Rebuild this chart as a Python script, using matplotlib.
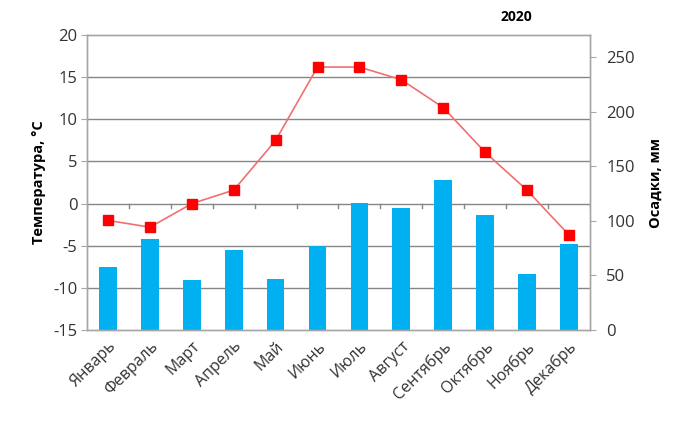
import numpy as np
import matplotlib
matplotlib.use("Agg")
import matplotlib.pyplot as plt

months = ["Январь", "Февраль", "Март", "Апрель", "Май", "Июнь",
          "Июль", "Август", "Сентябрь", "Октябрь", "Ноябрь", "Декабрь"]
temperature = [-2.0, -2.8, 0.0, 1.6, 7.5, 16.2, 16.2, 14.7, 11.4, 6.1, 1.6, -3.7]
precipitation = [58, 83, 46, 73, 47, 77, 116, 112, 137, 105, 51, 79]
temp_ticks = [-15, -10, -5, 0, 5, 10, 15, 20]
prec_ticks = [0, 50, 100, 150, 200, 250]

plt.rcParams['font.family'] = ['Open Sans', 'DejaVu Sans']
plt.rcParams['axes.unicode_minus'] = False

fig = plt.figure(figsize=(6.81, 4.22), dpi=100)
fig.patch.set_facecolor("white")
ax = fig.add_axes([0.128, 0.218, 0.738, 0.699])
ax2 = ax.twinx()

x = np.arange(len(months))

# bars on the right axis, drawn below the line
ax2.bar(x, precipitation, width=0.42, color="#00B0F0", zorder=2)
ax2.set_ylim(0, 270)
ax2.set_yticks(prec_ticks)

ax.set_zorder(ax2.get_zorder() + 1)
ax.patch.set_visible(False)
ax.plot(x, temperature, color="#F07070", lw=1.2, marker="s", markersize=7,
        markerfacecolor="#FF0000", markeredgecolor="#FF0000", zorder=5)
ax.set_ylim(-15, 20)
ax.set_yticks(temp_ticks)
ax.set_xlim(-0.5, len(months) - 0.5)
ax.set_xticks(x)
ax.set_xticklabels(months, rotation=45, ha="right", rotation_mode="anchor",
                   fontsize=11.5, color="#333333")

# grid on ax2 so it sits behind bars
for t in temp_ticks[1:-1]:
    ax2.axhline((t + 15) / 35 * 270, color="#868686", lw=1.0, zorder=1)

# category ticks on the zero line
for b in np.arange(-0.5, len(months) + 0.5):
    ax.plot([b, b], [0, -0.5], color="#868686", lw=1.0, zorder=1)

for a in (ax, ax2):
    for s in a.spines.values():
        s.set_color("#A6A6A6")
        s.set_linewidth(1.0)

ax.tick_params(axis="y", labelsize=12, colors="#A6A6A6", labelcolor="#333333",
               length=4, pad=3)
ax.tick_params(axis="x", length=0, pad=6)
ax2.tick_params(axis="y", labelsize=12, colors="#A6A6A6", labelcolor="#333333",
                length=4, pad=8)

ax.set_ylabel("Температура, °С", fontsize=10.5, fontweight="bold", labelpad=5)
ax2.set_ylabel("Осадки, мм", fontsize=10.5, fontweight="bold", labelpad=10)

fig.text(0.759, 0.96, "2020", fontsize=10, fontweight="bold", ha="center", va="center")

fig.savefig("out.png", dpi=100)
